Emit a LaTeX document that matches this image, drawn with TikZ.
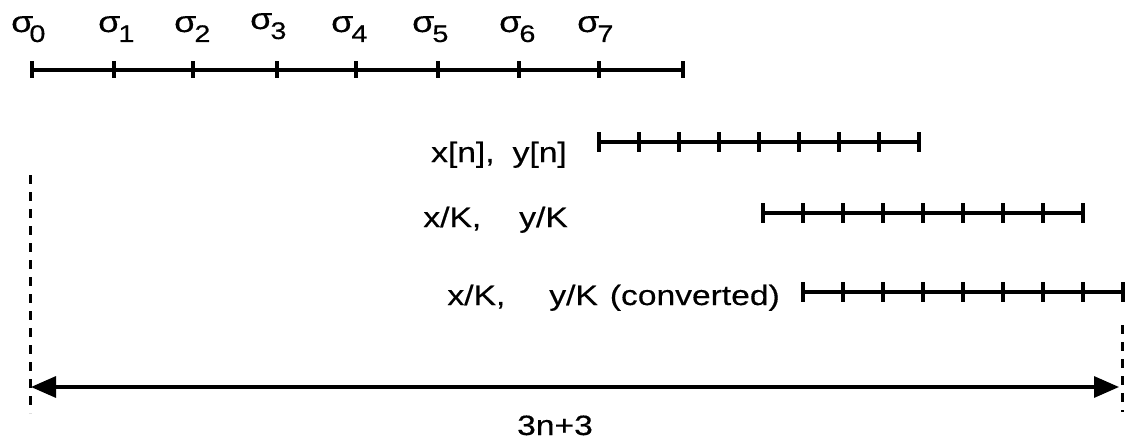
\documentclass[tikz,border=0pt]{standalone}
\usepackage{fontspec}
\setmainfont{Liberation Sans}[FakeStretch=1.2, FakeBold=0.4]
\usetikzlibrary{arrows.meta,calc}
\newcommand{\sig}[2][-2pt]{σ\kern#1\raisebox{-10pt}{\fontsize{24}{24}\selectfont #2}}
\begin{document}
\begin{tikzpicture}[x=1pt,y=-1pt,
  rulebar/.style={line width=3.2pt},
  tickmark/.style={line width=3.2pt},
  lbl/.style={font=\fontsize{28}{32}\selectfont, inner sep=0pt},
  siglbl/.style={font=\fontsize{30}{34}\selectfont, inner sep=0pt, anchor=base west},
  guide/.style={line width=3pt, dash pattern=on 9pt off 8pt},
  span/.style={line width=3.2pt, {Triangle[length=25pt,width=21pt]}-{Triangle[length=25pt,width=21pt]}}]
\useasboundingbox (0,0) rectangle (1127,444);

% time slots sigma_0 ... sigma_7
\coordinate (t0) at (32,70);
\coordinate (t8) at (683,70);
\draw[rulebar] (t0) -- (t8);
\foreach \x in {32,114,193,277,356,438,519,599,683}
  \draw[tickmark] (\x,61.5) -- (\x,78.5);
\node[siglbl] (s0) at (11,32)  {\sig[-4pt]{0}};
\node[siglbl] (s1) at (98,32)  {\sig{1}};
\node[siglbl] (s2) at (174,32) {\sig{2}};
\node[siglbl] (s3) at (250,29) {\sig{3}};
\node[siglbl] (s4) at (331,32) {\sig{4}};
\node[siglbl] (s5) at (412,32) {\sig{5}};
\node[siglbl] (s6) at (499,32) {\sig{6}};
\node[siglbl] (s7) at (577,32) {\sig{7}};

% data sequences
\coordinate (a0) at (599,142);
\coordinate (a1) at (919,142);
\draw[rulebar] (a0) -- (a1);
\foreach \i in {0,...,8}
  \draw[tickmark] ($(a0)!\i/8!(a1)$) ++(0,-10) -- ++(0,20);
\node[lbl, anchor=base east] (la) at (567,162) {x[n],\hspace{18pt}y[n]};

\coordinate (b0) at (763,213);
\coordinate (b1) at (1083,213);
\draw[rulebar] (b0) -- (b1);
\foreach \i in {0,...,8}
  \draw[tickmark] ($(b0)!\i/8!(b1)$) ++(0,-10) -- ++(0,20);
\node[lbl, anchor=base east] (lb) at (568,227) {x/K,\hspace{38pt}y/K};

\coordinate (c0) at (803,292);
\coordinate (c1) at (1123,292);
\draw[rulebar] (c0) -- (c1);
\foreach \i in {0,...,8}
  \draw[tickmark] ($(c0)!\i/8!(c1)$) ++(0,-10) -- ++(0,20);
\node[lbl, anchor=base east] (lc) at (780,305) {x/K,\hspace{44pt}y/K\hspace{12pt}(converted)};

% total length
\coordinate (gl0) at (30,175);
\coordinate (gl1) at (30,413);
\coordinate (gr0) at (1122,325);
\coordinate (gr1) at (1122,412);
\draw[guide] (gl0) -- (gl1);
\draw[guide] (gr0) -- (gr1);
\coordinate (pL) at (31,387);
\coordinate (pR) at (1119,387);
\draw[span] (pL) -- (pR);
\node[lbl, anchor=base] (len) at (555,435) {3n+3};
\end{tikzpicture}
\end{document}
